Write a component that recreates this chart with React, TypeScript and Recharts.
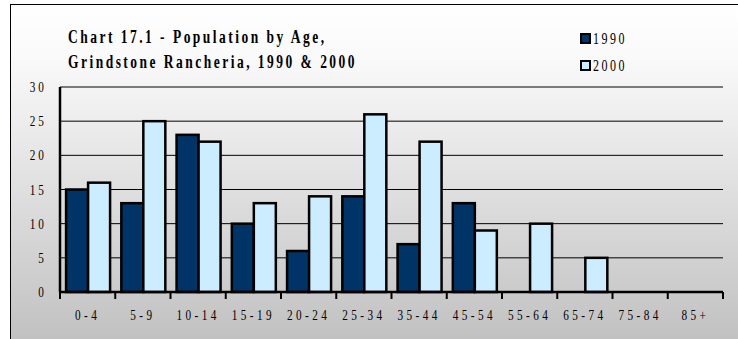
import { BarChart, Bar, XAxis, YAxis, CartesianGrid } from "recharts";

const ageGroups = ["0-4", "5-9", "10-14", "15-19", "20-24", "25-34", "35-44", "45-54", "55-64", "65-74", "75-84", "85+"];
const pop1990 = [15, 13, 23, 10, 6, 14, 7, 13, 0, 0, 0, 0];
const pop2000 = [16, 25, 22, 13, 14, 26, 22, 9, 10, 5, 0, 0];
const yTicks = [0, 5, 10, 15, 20, 25, 30];
const titleLines = ["Chart 17.1 - Population by Age,", "Grindstone Rancheria, 1990 & 2000"];
const series = [
  { key: "y1990", name: "1990", color: "#003366" },
  { key: "y2000", name: "2000", color: "#CCECFF" },
];

const data = ageGroups.map((g, i) => ({ group: g, y1990: pop1990[i], y2000: pop2000[i] }));

const FONT = "'Liberation Serif', 'Times New Roman', serif";

const XTick = (props: any) => {
  const { x, y, payload, index } = props;
  const half = payload?.offset ?? 27.6;
  const last = index === ageGroups.length - 1;
  return (
    <g>
      <line x1={x - half} x2={x - half} y1={y - 8} y2={y - 1} stroke="#000" strokeWidth={2} />
      {last && <line x1={x + half} x2={x + half} y1={y - 8} y2={y - 1} stroke="#000" strokeWidth={2} />}
      <text
        transform={`translate(${x},${y + 20}) scale(0.75,1)`}
        textAnchor="middle"
        fontFamily={FONT}
        fontSize={15}
        letterSpacing={4.5}
        fill="#000"
      >
        {payload.value}
      </text>
    </g>
  );
};

const YTick = (props: any) => {
  const { x, y, payload } = props;
  return (
    <text
      transform={`translate(${x},${y + 5}) scale(0.75,1)`}
      textAnchor="end"
      fontFamily={FONT}
      fontSize={15}
      letterSpacing={4}
      fill="#000"
    >
      {payload.value}
    </text>
  );
};

const renderBar = (props: any) => {
  const { x, y, width, height, fill } = props;
  if (!height || height <= 0) return <g />;
  return <rect x={x} y={y} width={width} height={height} fill={fill} stroke="#000000" strokeWidth={2.5} />;
};

export default function App() {
  return (
    <div style={{ position: "absolute", left: 0, top: 0, width: 738, height: 339, overflow: "hidden" }}>
      <div
        style={{
          position: "absolute",
          left: 10,
          top: 4,
          width: 740,
          height: 340,
          borderLeft: "1.5px solid #000",
          borderTop: "1.5px solid #000",
          background: "linear-gradient(#ffffff 0%, #fafafa 15%, #c0c0c0 100%)",
        }}
      />
      <div
        style={{
          position: "absolute",
          left: 68,
          top: 25,
          fontFamily: FONT,
          fontWeight: "bold",
          fontSize: 18,
          letterSpacing: 3.3,
          lineHeight: "25px",
          transform: "scaleX(0.75)",
          transformOrigin: "left top",
          whiteSpace: "nowrap",
          color: "#000",
        }}
      >
        {titleLines.map((t) => (
          <div key={t}>{t}</div>
        ))}
      </div>
      <div style={{ position: "absolute", left: 580, top: 25 }}>
        {series.map((s) => (
          <div key={s.key} style={{ display: "flex", alignItems: "center", height: 27 }}>
            <div
              style={{
                width: 7,
                height: 7,
                background: s.color,
                border: "2px solid #000",
                marginRight: 2,
              }}
            />
            <span
              style={{
                fontFamily: FONT,
                fontSize: 16,
                letterSpacing: 3.3,
                display: "inline-block",
                transform: "scaleX(0.75)",
                transformOrigin: "left center",
                color: "#000",
              }}
            >
              {s.name}
            </span>
          </div>
        ))}
      </div>
      <div style={{ position: "absolute", left: 0, top: 0 }}>
        <BarChart
          width={738}
          height={339}
          data={data}
          margin={{ top: 87, right: 15, left: 20, bottom: 17 }}
          barCategoryGap="11%"
          barGap={0}
        >
          <CartesianGrid vertical={false} stroke="#000" strokeWidth={1} />
          <XAxis
            dataKey="group"
            height={30}
            axisLine={{ stroke: "#000", strokeWidth: 2.5 }}
            tickLine={false}
            tick={<XTick />}
            interval={0}
          />
          <YAxis
            width={40}
            domain={[0, 30]}
            ticks={yTicks}
            axisLine={{ stroke: "#000", strokeWidth: 2.5 }}
            tickLine={false}
            tickSize={0}
            tickMargin={13}
            tick={<YTick />}
            interval={0}
          />
          {series.map((s) => (
            <Bar
              key={s.key}
              dataKey={s.key}
              name={s.name}
              fill={s.color}
              shape={renderBar}
              isAnimationActive={false}
            />
          ))}
        </BarChart>
      </div>
    </div>
  );
}
